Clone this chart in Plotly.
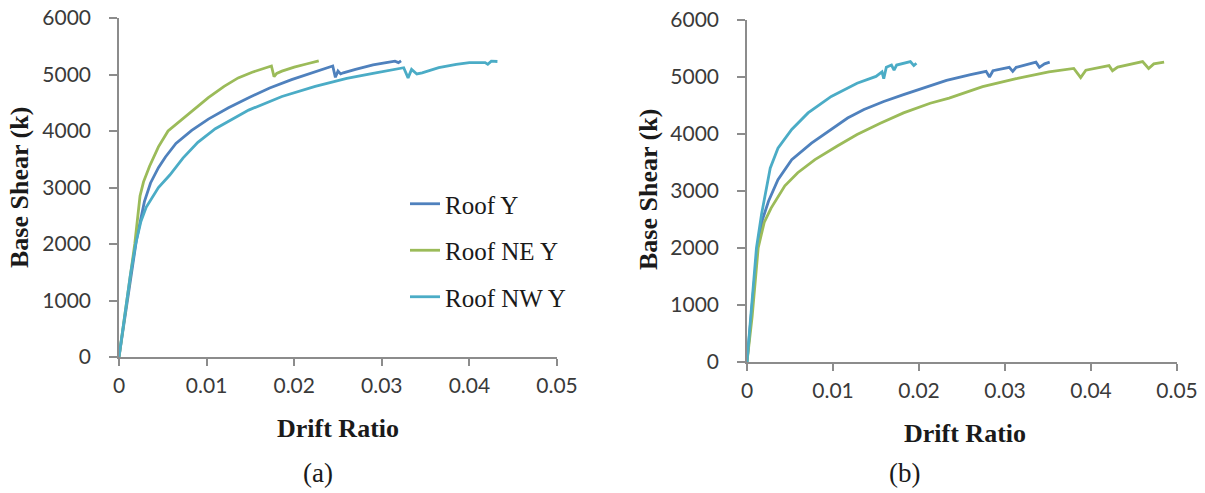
import plotly.graph_objects as go

W, H = 1205, 493

# ---------------- data (a) ----------------
a_roofY_x = [0, 0.001, 0.002, 0.0029, 0.0036, 0.0045, 0.0053, 0.0065, 0.0083, 0.0102, 0.0125, 0.0148,
             0.0172, 0.0197, 0.0218, 0.0239, 0.0244, 0.0247, 0.0250, 0.0253, 0.0256, 0.0270, 0.0290,
             0.0305, 0.0315, 0.0319, 0.0322]
a_roofY_y = [0, 1050, 2080, 2750, 3080, 3350, 3540, 3780, 4010, 4210, 4410, 4590,
             4760, 4910, 5020, 5120, 5150, 4950, 5060, 5010, 5030, 5090, 5170,
             5210, 5235, 5210, 5240]

a_ne_x = [0, 0.0009, 0.0018, 0.0024, 0.0028, 0.0035, 0.0045, 0.0056, 0.0072, 0.0087, 0.0102, 0.0120,
          0.0136, 0.0152, 0.0167, 0.0174, 0.0177, 0.0180, 0.0186, 0.0200, 0.0215, 0.0228]
a_ne_y = [0, 1000, 2000, 2850, 3100, 3380, 3720, 4000, 4210, 4400, 4590, 4790,
          4940, 5040, 5110, 5150, 4960, 5020, 5060, 5130, 5190, 5240]

a_nw_x = [0, 0.0007, 0.0013, 0.0019, 0.0025, 0.0031, 0.0038, 0.0045, 0.0058, 0.0073, 0.0090, 0.0110,
          0.0148, 0.0186, 0.0224, 0.0260, 0.0290, 0.0315, 0.0325, 0.0330, 0.0334, 0.0340, 0.0346,
          0.0365, 0.0385, 0.0400, 0.0418, 0.0421, 0.0425, 0.0432]
a_nw_y = [0, 800, 1450, 2000, 2400, 2650, 2830, 3000, 3220, 3520, 3800, 4040,
          4370, 4610, 4790, 4930, 5020, 5090, 5120, 4940, 5090, 5010, 5030,
          5120, 5180, 5210, 5210, 5180, 5235, 5230]

# ---------------- data (b) ----------------
b_roofY_x = [0, 0.0005, 0.0012, 0.0018, 0.0025, 0.0036, 0.0052, 0.0075, 0.0098, 0.0117, 0.0136, 0.0159,
             0.0182, 0.0205, 0.0232, 0.0260, 0.0278, 0.0282, 0.0286, 0.0305, 0.0309, 0.0313, 0.0336,
             0.0340, 0.0346, 0.0352]
b_roofY_y = [0, 800, 2000, 2500, 2820, 3200, 3550, 3840, 4080, 4280, 4430, 4570,
             4690, 4800, 4940, 5040, 5100, 5000, 5110, 5170, 5100, 5170, 5260,
             5170, 5230, 5260]

b_ne_x = [0, 0.0006, 0.0013, 0.0020, 0.0028, 0.0044, 0.0059, 0.0079, 0.0105, 0.0128, 0.0155, 0.0182,
          0.0213, 0.0235, 0.0274, 0.0313, 0.0351, 0.0380, 0.0388, 0.0394, 0.0421, 0.0425, 0.0431,
          0.0460, 0.0467, 0.0473, 0.0485]
b_ne_y = [0, 800, 2000, 2450, 2700, 3090, 3320, 3550, 3790, 3990, 4190, 4370,
          4540, 4630, 4830, 4970, 5090, 5150, 4990, 5120, 5200, 5110, 5175,
          5270, 5150, 5230, 5260]

b_nw_x = [0, 0.0005, 0.0011, 0.0017, 0.0022, 0.0027, 0.0036, 0.0052, 0.0071, 0.0098, 0.0128, 0.0150,
          0.0157, 0.0159, 0.0162, 0.0168, 0.0171, 0.0174, 0.0190, 0.0194, 0.0197]
b_nw_y = [0, 900, 2000, 2600, 3000, 3400, 3750, 4080, 4370, 4660, 4890, 5010,
          5090, 4970, 5170, 5210, 5120, 5210, 5270, 5200, 5240]

names = ["Roof Y", "Roof NE Y", "Roof NW Y"]
colors = ["#4F81BD", "#9BBB59", "#4BACC6"]

x_ticks = [0, 0.01, 0.02, 0.03, 0.04, 0.05]
x_ticktext = ["0", "0.01", "0.02", "0.03", "0.04", "0.05"]
y_ticks = [0, 1000, 2000, 3000, 4000, 5000, 6000]

fig = go.Figure()

series_a = [(a_roofY_x, a_roofY_y), (a_ne_x, a_ne_y), (a_nw_x, a_nw_y)]
series_b = [(b_roofY_x, b_roofY_y), (b_ne_x, b_ne_y), (b_nw_x, b_nw_y)]

for i, (xs, ys) in enumerate(series_a):
    fig.add_trace(go.Scatter(x=xs, y=ys, mode="lines", name=names[i], legendgroup=names[i],
                             line=dict(color=colors[i], width=2.8), xaxis="x", yaxis="y"))
for i, (xs, ys) in enumerate(series_b):
    fig.add_trace(go.Scatter(x=xs, y=ys, mode="lines", name=names[i], legendgroup=names[i],
                             showlegend=False,
                             line=dict(color=colors[i], width=2.8), xaxis="x2", yaxis="y2"))

def px_x(p):
    return p / W

def px_y(p):
    return 1 - p / H

axis_col = "#8c8c8c"
tick_font = dict(family="Lato", size=21, color="#3a3a3a")

common_x = dict(range=[0, 0.05], tickvals=x_ticks, ticktext=x_ticktext, showgrid=False, zeroline=False,
                showline=True, linecolor=axis_col, linewidth=1.5, ticks="outside", ticklen=7,
                tickcolor=axis_col, tickwidth=1.5, tickfont=tick_font, fixedrange=True,
                automargin=False, ticklabelstandoff=2)
common_y = dict(range=[0, 6000], tickvals=y_ticks, showgrid=False, zeroline=False,
                showline=True, linecolor=axis_col, linewidth=1.5, ticks="outside", ticklen=8,
                tickcolor=axis_col, tickwidth=1.5, tickfont=tick_font, fixedrange=True,
                automargin=False, ticklabelstandoff=14)

fig.update_layout(
    width=W, height=H,
    margin=dict(l=0, r=0, t=0, b=0),
    paper_bgcolor="white", plot_bgcolor="white",
    xaxis=dict(domain=[px_x(119), px_x(557)], anchor="y", **common_x),
    yaxis=dict(domain=[px_y(357), px_y(18)], anchor="x", **common_y),
    xaxis2=dict(domain=[px_x(747), px_x(1177)], anchor="y2", **common_x),
    yaxis2=dict(domain=[px_y(362), px_y(20)], anchor="x2", **common_y),
    showlegend=True,
    legend=dict(x=px_x(405), y=px_y(181), xanchor="left", yanchor="top",
                font=dict(family="Liberation Serif", size=25, color="#1a1a1a"),
                tracegroupgap=11, traceorder="grouped", bgcolor="rgba(0,0,0,0)"),
)

title_font = dict(family="Liberation Serif", size=26, color="#1a1a1a")
ann = [
    dict(text="<b>Drift Ratio</b>", x=px_x(338), y=px_y(428)),
    dict(text="<b>Drift Ratio</b>", x=px_x(965), y=px_y(433)),
    dict(text="<b>Base Shear (k)</b>", x=px_x(20), y=px_y(188), textangle=-90),
    dict(text="<b>Base Shear (k)</b>", x=px_x(648), y=px_y(190), textangle=-90),
]
for a in ann:
    fig.add_annotation(xref="paper", yref="paper", showarrow=False, xanchor="center", yanchor="middle",
                       font=title_font, **a)

label_font = dict(family="Liberation Serif", size=27, color="#1a1a1a")
fig.add_annotation(text="(a)", x=px_x(318), y=px_y(473), xref="paper", yref="paper", showarrow=False,
                   xanchor="center", yanchor="middle", font=label_font)
fig.add_annotation(text="(b)", x=px_x(904), y=px_y(473), xref="paper", yref="paper", showarrow=False,
                   xanchor="center", yanchor="middle", font=label_font)

fig.write_html("out.html")
